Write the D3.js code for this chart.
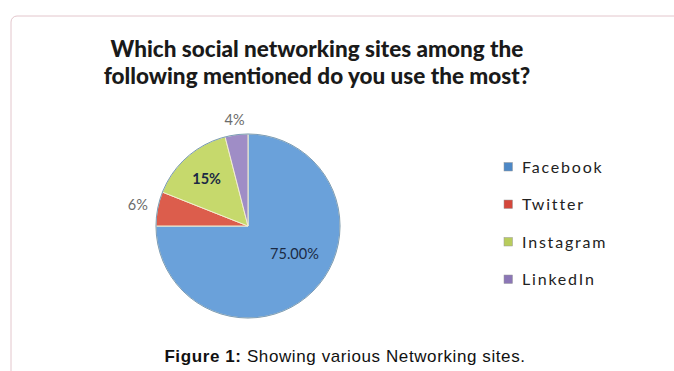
<!DOCTYPE html>
<html>
<head>
<meta charset="utf-8">
<script src="https://cdn.jsdelivr.net/npm/d3@7"></script>
<style>
  body { margin: 0; background: #fff; }
  svg { display: block; }
</style>
</head>
<body>
<script>
// data
const sites = ["Facebook", "Twitter", "Instagram", "LinkedIn"];
const shares = [75, 6, 15, 4];
const sliceLabels = ["75.00%", "6%", "15%", "4%"];
const colors = ["#6aa1da", "#dc5d4c", "#c6d96c", "#9f8dc6"];
const legendColors = ["#4d88c6", "#d4473b", "#b8cc5c", "#8b76b6"];

const width = 674, height = 371;
const svg = d3.select("body").append("svg")
    .attr("width", width)
    .attr("height", height);

// faint frame of the scanned chart area
svg.append("rect")
    .attr("x", 11).attr("y", 16)
    .attr("width", 700).attr("height", 400)
    .attr("rx", 6)
    .attr("fill", "none")
    .attr("stroke", "#e3c6cc")
    .attr("stroke-width", 1);

// title
const title = svg.append("text")
    .attr("x", 317).attr("y", 57)
    .attr("text-anchor", "middle")
    .style("font-family", "Lato, 'Open Sans', sans-serif")
    .style("font-weight", "900")
    .style("font-size", "22.5px")
    .style("fill", "#1a1a1a");
title.append("tspan").attr("x", 317).attr("dy", 0).text("Which social networking sites among the");
title.append("tspan").attr("x", 317).attr("dy", 27).text("following mentioned do you use the most?");

// pie
const cx = 248, cy = 226, r = 92;
const pie = d3.pie().sort(null).value(d => d);
const arcs = pie(shares);
const arc = d3.arc().innerRadius(0).outerRadius(r);

const g = svg.append("g").attr("transform", `translate(${cx},${cy})`);
g.selectAll("path")
    .data(arcs)
    .join("path")
    .attr("d", arc)
    .attr("fill", (d, i) => colors[i])
    .attr("stroke", "#f3eed0")
    .attr("stroke-width", 1);

g.append("circle")
    .attr("r", r)
    .attr("fill", "none")
    .attr("stroke", "#5b86b4")
    .attr("stroke-width", 0.8);

// slice labels: radius factor along the slice middle, plus a small nudge
const labelRadius = [0.56, 1.22, 0.68, 1.16];
const labelNudge = [[10, -9], [0, 0], [0, 0], [0, 0]];
g.selectAll("text.lbl")
    .data(arcs)
    .join("text")
    .attr("class", "lbl")
    .attr("transform", (d, i) => {
      const a = d3.arc().innerRadius(r * labelRadius[i]).outerRadius(r * labelRadius[i]);
      const [x, y] = a.centroid(d);
      return `translate(${x + labelNudge[i][0]},${y + labelNudge[i][1]})`;
    })
    .attr("text-anchor", "middle")
    .attr("dy", "0.35em")
    .style("font-family", "Lato, 'Open Sans', sans-serif")
    .style("font-size", "14.5px")
    .style("font-weight", (d, i) => i === 2 ? "bold" : "normal")
    .style("fill", (d, i) => labelRadius[i] > 1 ? "#6b6b6b" : "#1b2a44")
    .text((d, i) => sliceLabels[i]);

// legend
const legend = svg.append("g").attr("transform", "translate(504,167)");
const rows = legend.selectAll("g")
    .data(sites)
    .join("g")
    .attr("transform", (d, i) => `translate(0,${i * 37.5})`);
rows.append("rect")
    .attr("x", 0).attr("y", -4.5)
    .attr("width", 8.5).attr("height", 8.5)
    .attr("fill", (d, i) => legendColors[i])
    .attr("stroke", "#999")
    .attr("stroke-width", 0.5);
rows.append("text")
    .attr("x", 18)
    .attr("dy", "0.35em")
    .style("font-family", "Lato, 'Open Sans', sans-serif")
    .style("font-size", "16px")
    .style("letter-spacing", "1.8px")
    .style("fill", "#222")
    .text(d => d);

// caption
const cap = svg.append("text")
    .attr("x", 345).attr("y", 362)
    .attr("text-anchor", "middle")
    .style("font-family", "'Liberation Sans', Arial, sans-serif")
    .style("font-size", "17px")
    .style("letter-spacing", "0.6px")
    .style("fill", "#111");
cap.append("tspan").style("font-weight", "bold").text("Figure 1: ");
cap.append("tspan").text("Showing various Networking sites.");
</script>
</body>
</html>
